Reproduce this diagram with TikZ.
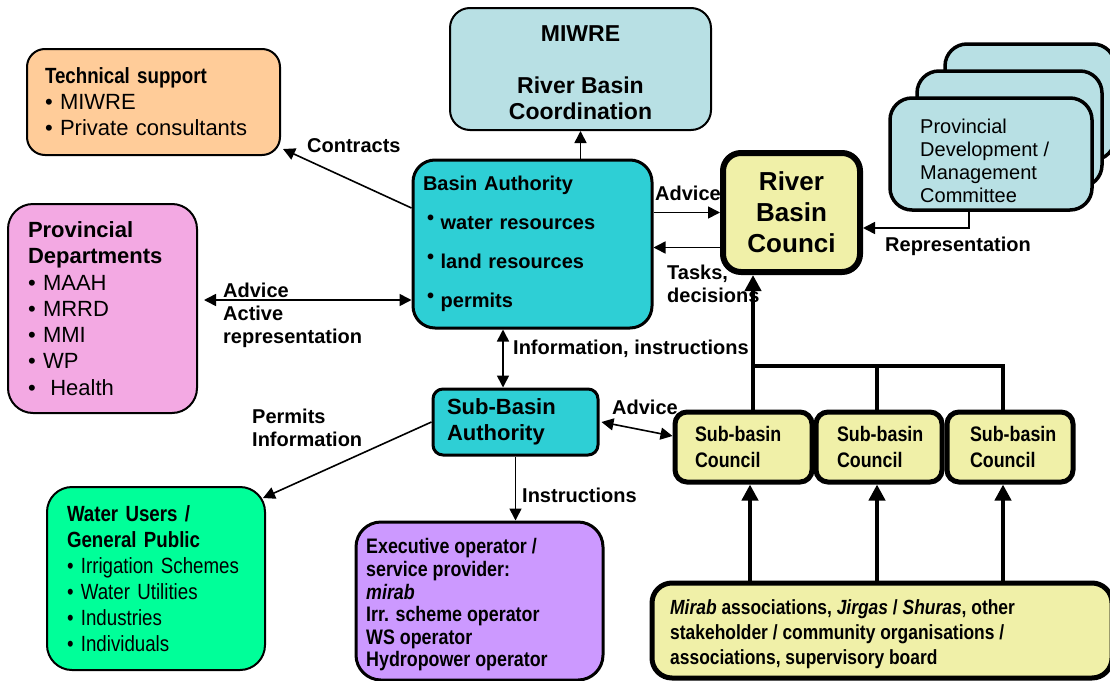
\documentclass[tikz,border=0pt]{standalone}
\usepackage{fontspec}
\setmainfont{Liberation Sans}
\newfontfamily\narrowfont[FakeStretch=0.85]{Liberation Sans}
\usetikzlibrary{positioning,arrows.meta}

\definecolor{techorange}{HTML}{FFCC99}
\definecolor{paleblue}{HTML}{B8E0E4}
\definecolor{basincyan}{HTML}{2ECFD5}
\definecolor{councilyellow}{HTML}{F0F0A8}
\definecolor{deptpink}{HTML}{F3A9E3}
\definecolor{usergreen}{HTML}{00FF99}
\definecolor{execpurple}{HTML}{CC99FF}

\tikzset{
  box/.style={draw, align=left, inner sep=0pt, line width=2pt, rounded corners=20pt},
  link/.style={line width=1.6pt, -{Triangle[length=12pt,width=12pt]}},
  dlink/.style={line width=1.6pt, {Triangle[length=12pt,width=12pt]}-{Triangle[length=12pt,width=12pt]}},
  fat/.style={line width=4.5pt},
  fatlink/.style={line width=4.5pt, -{Triangle[length=16pt,width=16pt]}},
  lbl/.style={anchor=west, align=left, inner sep=0pt, font=\fontsize{20}{23}\selectfont\bfseries},
}

\begin{document}
\begin{tikzpicture}[x=1pt,y=-1pt]
\useasboundingbox (0,0) rectangle (1110,680);

% top row
\node[box, fill=techorange, rounded corners=18pt, minimum width=253pt, minimum height=106pt, text width=217pt,
  font=\fontsize{22}{26}\selectfont] (tech) at (153.5,102)
  {{\narrowfont\bfseries Technical support}\\ • MIWRE\\ • Private consultants};
\node[box, fill=paleblue, minimum width=261pt, minimum height=122pt] (miwre) at (580.5,69) {};
\node[align=center, inner sep=0pt, font=\fontsize{23}{26}\selectfont\bfseries] (miwretext) at (580.5,73)
  {MIWRE\\[26pt]River Basin\\Coordination};

% committees, back to front
\node[box, fill=paleblue, line width=3.5pt, rounded corners=22pt, minimum width=170pt, minimum height=116pt] (cmtc) at (1030,102) {};
\node[box, fill=paleblue, line width=3.5pt, rounded corners=22pt, minimum width=185pt, minimum height=116pt] (cmtb) at (1009.5,129) {};
\node[box, fill=paleblue, line width=3.5pt, rounded corners=22pt, minimum width=202pt, minimum height=112pt] (cmt) at (991,154) {};
\node[anchor=west, align=left, inner sep=0pt, font=\fontsize{20}{23}\selectfont] (cmttext) at (920,161)
  {Provincial\\Development /\\Management\\Committee};

% middle row
\node[box, fill=basincyan, line width=3pt, rounded corners=22pt, minimum width=239pt, minimum height=168pt, text width=219pt,
  font=\fontsize{20}{24}\selectfont\bfseries] (basin) at (532.5,244)
  {Basin Authority\\[15pt]
   \hspace{4pt}\raisebox{5pt}{•} water resources\\[15pt]
   \hspace{4pt}\raisebox{5pt}{•} land resources\\[15pt]
   \hspace{4pt}\raisebox{5pt}{•} permits};
\node[box, fill=councilyellow, line width=6pt, rounded corners=18pt, align=center, minimum width=137pt, minimum height=119pt,
  font=\fontsize{26}{31}\selectfont\bfseries] (rbc) at (791.5,212.5)
  {River\\Basin\\Counci};
\node[box, fill=deptpink, rounded corners=25pt, minimum width=189pt, minimum height=209pt, text width=149pt,
  font=\fontsize{22}{26.3}\selectfont] (provdep) at (102.5,308.5)
  {\textbf{Provincial}\\\textbf{Departments}\\• MAAH\\• MRRD\\• MMI\\• WP\\•\ \ Health};

% sub-basin level
\node[box, fill=basincyan, line width=3pt, rounded corners=10pt, minimum width=165pt, minimum height=66pt, text width=137pt,
  font=\fontsize{22}{26}\selectfont\bfseries] (sba) at (515.5,422)
  {Sub-Basin\\Authority};
\node[box, fill=councilyellow, line width=5pt, rounded corners=12pt, minimum width=137pt, minimum height=70pt, text width=97pt,
  font=\narrowfont\fontsize{21}{26}\selectfont\bfseries] (sbc1) at (743.5,447)
  {\mbox{Sub-basin}\\Council};
\node[box, fill=councilyellow, line width=5pt, rounded corners=12pt, minimum width=126pt, minimum height=70pt, text width=84pt,
  font=\narrowfont\fontsize{21}{26}\selectfont\bfseries] (sbc2) at (879,447)
  {\mbox{Sub-basin}\\Council};
\node[box, fill=councilyellow, line width=5pt, rounded corners=12pt, minimum width=126pt, minimum height=70pt, text width=80pt,
  font=\narrowfont\fontsize{21}{26}\selectfont\bfseries] (sbc3) at (1010,447)
  {\mbox{Sub-basin}\\Council};

% bottom row
\node[box, fill=usergreen, rounded corners=25pt, minimum width=218pt, minimum height=183pt, text width=178pt,
  font=\narrowfont\fontsize{22}{26}\selectfont] (users) at (156,578.5)
  {\textbf{Water Users /}\\\textbf{General Public}\\• Irrigation Schemes\\• Water Utilities\\• Industries\\• Individuals};
\node[box, fill=execpurple, line width=3pt, rounded corners=25pt, minimum width=247pt, minimum height=158pt] (exec) at (479.5,601) {};
\node[anchor=west, align=left, inner sep=0pt, font=\narrowfont\fontsize{21}{22.6}\selectfont\bfseries] (exectext) at (366,605)
  {Executive operator /\\service provider:\\\textit{mirab}\\Irr. scheme operator\\WS operator\\Hydropower operator};
\node[box, fill=councilyellow, line width=5pt, rounded corners=20pt, minimum width=460pt, minimum height=95pt] (grass) at (882,630.5) {};
\node[anchor=west, align=left, inner sep=0pt, font=\narrowfont\fontsize{20.5}{25}\selectfont\bfseries] (grasstext) at (670,634)
  {\textit{Mirab} associations, \textit{Jirgas} / \textit{Shuras}, other\\stakeholder / community organisations /\\associations, supervisory board};

% thin connectors
\draw[link] (basin.north -| miwre.south) -- (miwre.south);
\draw[link] ([yshift=36pt]basin.west) -- ([xshift=2pt,yshift=7pt]tech.south east);
\draw[link] (basin.east |- rbc.west) -- (rbc.west);
\draw[link] ([yshift=-35pt]rbc.west) -- ([yshift=-35pt]rbc.west -| basin.east);
\draw[link] ([xshift=-22pt]cmt.south) |- ([yshift=-15.5pt]rbc.east);
\draw[dlink] ([xshift=6pt,yshift=8.5pt]provdep.east) -- ([yshift=8.5pt]provdep.east -| basin.west);
\draw[dlink] ([xshift=-12.5pt]sba.north) -- ([xshift=-12.5pt]sba.north |- basin.south);
\draw[dlink] ([xshift=2pt]sba.east) -- ([yshift=11pt]sbc1.west);
\draw[link] (sba.west) -- ([xshift=-3pt,yshift=-12pt]users.north east);
\draw[link] (sba.south) -- (sba.south |- exec.north);

% thick connectors
\coordinate (hub) at (753,366);
\draw[fatlink] ([xshift=9.5pt]sbc1.north) -- ([xshift=-38.5pt]rbc.south);
\draw[fat] ([xshift=-2pt]sbc2.north) |- (hub);
\draw[fat] ([xshift=-7pt]sbc3.north) |- (hub);
\draw[fatlink] ([xshift=6.5pt]sbc1.south |- grass.north) -- ([xshift=6.5pt]sbc1.south);
\draw[fatlink] ([xshift=-2pt]sbc2.south |- grass.north) -- ([xshift=-2pt]sbc2.south);
\draw[fatlink] ([xshift=-7pt]sbc3.south |- grass.north) -- ([xshift=-7pt]sbc3.south);

% labels
\node[lbl] (contracts) at (307,146) {Contracts};
\node[lbl] (advrbc) at (655,193) {Advice};
\node[lbl] (tasks) at (667,284) {Tasks,\\decisions};
\node[lbl] (repr) at (885,246) {Representation};
\node[lbl] (advdep) at (223,315) {Advice\\Active\\representation};
\node[lbl] (info) at (513,349) {Information, instructions};
\node[lbl] (permits) at (252,428) {Permits\\Information};
\node[lbl] (advsbc) at (612,407) {Advice};
\node[lbl] (instr) at (522,495) {Instructions};
\end{tikzpicture}
\end{document}
